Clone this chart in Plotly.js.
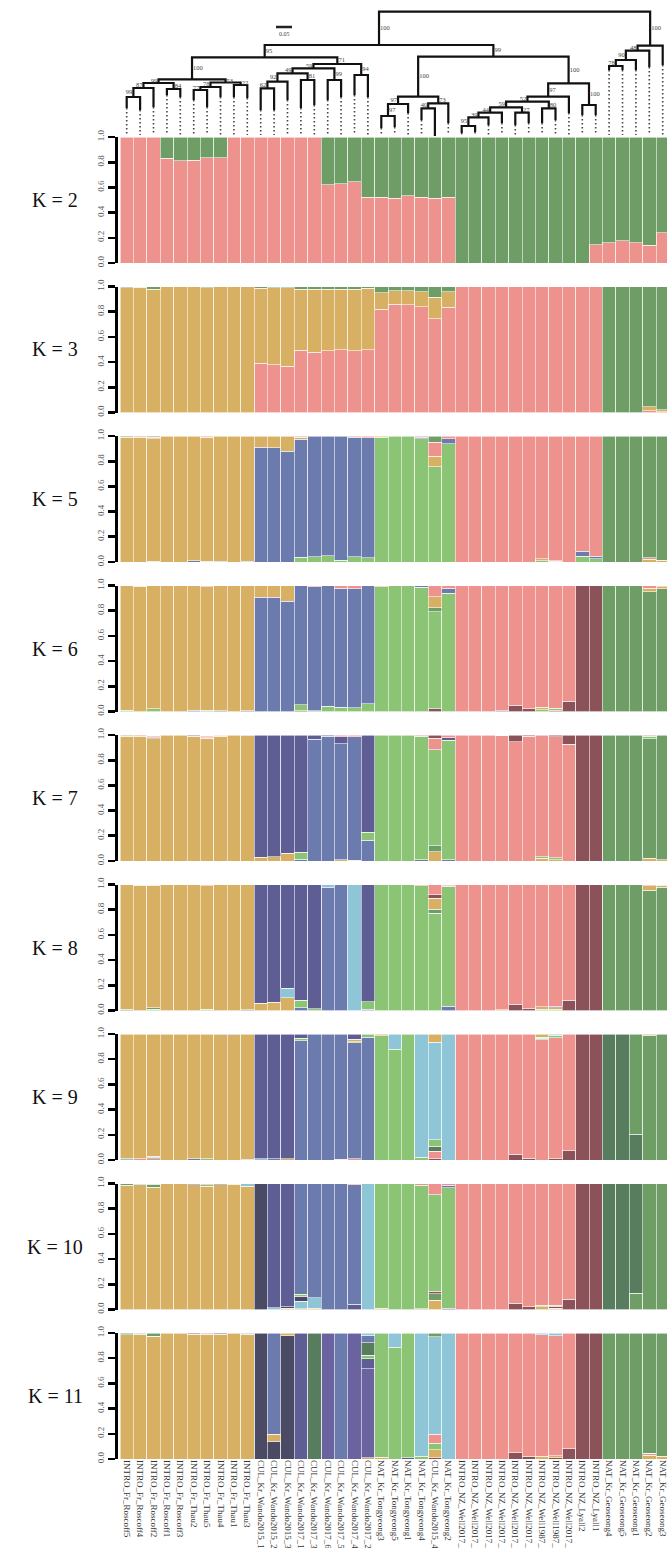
<!DOCTYPE html>
<html><head><meta charset="utf-8">
<script src="https://cdn.plot.ly/plotly-3.0.1.min.js"></script>
<style>body{margin:0;background:#fff}#chart{width:667px;height:1548px}</style>
</head><body><div id="chart"></div>
<script>
// ---------------- sample labels (bar order) ----------------
const sampleLabels = [
 "INTRO_Fr_Roscoff5","INTRO_Fr_Roscoff4","INTRO_Fr_Roscoff2","INTRO_Fr_Roscoff1","INTRO_Fr_Roscoff3",
 "INTRO_Fr_Thau2","INTRO_Fr_Thau5","INTRO_Fr_Thau4","INTRO_Fr_Thau1","INTRO_Fr_Thau3",
 "CUL_Kr_Wando2015_1","CUL_Kr_Wando2015_2","CUL_Kr_Wando2015_3","CUL_Kr_Wando2017_1","CUL_Kr_Wando2017_3",
 "CUL_Kr_Wando2017_6","CUL_Kr_Wando2017_5","CUL_Kr_Wando2017_4","CUL_Kr_Wando2017_2",
 "NAT_Kr_Tongyeong3","NAT_Kr_Tongyeong5","NAT_Kr_Tongyeong1","NAT_Kr_Tongyeong4","CUL_Kr_Wando2015_4","NAT_Kr_Tongyeong2",
 "INTRO_NZ_Well2017_","INTRO_NZ_Well2017_","INTRO_NZ_Well2017_","INTRO_NZ_Well2017_","INTRO_NZ_Well2017_","INTRO_NZ_Well2017_",
 "INTRO_NZ_Well1987_","INTRO_NZ_Well1987_","INTRO_NZ_Well2017_","INTRO_NZ_Lyall2","INTRO_NZ_Lyall1",
 "NAT_Kr_Geoseong4","NAT_Kr_Geoseong5","NAT_Kr_Geoseong1","NAT_Kr_Geoseong2","NAT_Kr_Geoseong3"
];
// groups per row: FR(10) | CUL(9) | NAT-T(6) | NZ(11) | Geo(5)

// ---------------- K = 2 ----------------
const k2_pink  = [1,1,1,.83,.81,.815,.835,.835,1,1, 1,1,1,1,1,.62,.63,.645,.52, .52,.515,.535,.52,.515,.52, 0,0,0,0,0,0,0,0,0,0,.145, .16,.175,.16,.14,.24];
const k2_green = [0,0,0,.17,.19,.185,.165,.165,0,0, 0,0,0,0,0,.38,.37,.355,.48, .48,.485,.465,.48,.485,.48, 1,1,1,1,1,1,1,1,1,1,.855, .84,.825,.84,.86,.76];

// ---------------- K = 3 ----------------
const k3_pink   = [0,0,0,0,0,0,0,0,0,0, .39,.38,.367,.495,.48,.49,.5,.49,.497, .82,.86,.855,.84,.745,.835, 1,1,1,1,1,1,1,1,1,1,1, 0,0,0,.015,.005];
const k3_yellow = [.99,.995,.98,1,1,1,.99,1,1,1, .597,.61,.623,.485,.5,.49,.48,.49,.488, .13,.105,.11,.12,.17,.125, 0,0,0,0,0,0,0,0,0,0,0, 0,0,0,.03,.015];
const k3_green  = [.01,.005,.02,0,0,0,.01,0,0,0, .013,.01,.01,.02,.02,.02,.02,.02,.015, .05,.035,.035,.04,.085,.04, 0,0,0,0,0,0,0,0,0,0,0, 1,1,1,.955,.98];

// ---------------- K = 5 ----------------
const k5_lgreen = [0,0,.005,0,0,0,.005,0,0,0, 0,0,0,.037,.04,.05,.015,.04,.035, .99,1,1,.98,.755,.94, 0,0,0,0,0,0,.01,.005,0,.045,.025, 0,0,0,0,0];
const k5_blue   = [0,0,0,0,0,.01,0,.005,0,.005, .91,.905,.88,.936,.96,.95,.985,.95,.95, 0,0,0,.01,0,.04, 0,0,0,0,0,0,0,0,0,.04,.02, 0,0,0,0,0];
const k5_yellow = [.99,.99,.975,1,1,.99,.985,.995,1,.995, .09,.095,.12,.017,0,0,0,0,0, .01,0,0,0,.085,0, 0,0,0,0,0,0,.015,.005,0,0,0, 0,0,0,.02,.015];
const k5_pink   = [0,.01,.01,0,0,0,.01,0,0,0, 0,0,0,.01,0,0,0,.01,.015, 0,0,0,.01,.11,.02, 1,1,1,1,1,1,.975,.99,1,.915,.955, 0,0,0,.015,0];
const k5_dgreen = [.01,0,.01,0,0,0,0,0,0,0, 0,0,0,0,0,0,0,0,0, 0,0,0,0,.05,0, 0,0,0,0,0,0,0,0,0,0,0, 1,1,1,.965,.985];

// ---------------- K = 6 ----------------
const k6_maroon = [0,0,0,0,0,0,0,0,0,0, 0,0,0,.005,0,0,0,0,0, 0,0,0,0,.02,0, 0,0,0,0,.048,.02,0,.01,.08,1,1, 0,0,0,0,0];
const k6_lgreen = [.01,0,.02,0,0,0,.01,0,0,0, 0,0,0,.05,.005,.04,.035,.03,.06, .99,1,1,.985,.77,.94, 0,0,0,0,0,0,.015,.015,0,0,0, 0,0,0,0,0];
const k6_blue   = [0,0,0,0,0,.01,0,.005,0,.005, .907,.907,.875,.945,.985,.96,.945,.946,.94, 0,0,0,.015,0,.04, 0,0,0,.005,0,0,0,0,0,0,0, 0,0,0,0,0];
const k6_dgreen = [0,0,0,0,0,0,0,0,0,0, 0,0,0,0,0,0,0,0,0, 0,0,0,0,.035,0, 0,0,0,0,0,0,0,0,0,0,0, 1,1,1,.95,.975];
const k6_yellow = [.99,.995,.98,1,1,.99,.98,.995,1,.995, .093,.093,.125,0,0,0,0,0,0, .01,0,0,0,.085,0, 0,0,0,0,0,0,.02,0,0,0,0, 0,0,0,.03,.015];
const k6_pink   = [0,.005,0,0,0,0,.01,0,0,0, 0,0,0,0,.01,0,.02,.024,0, 0,0,0,0,.09,.02, 1,1,1,.995,.952,.98,.965,.975,.92,0,0, 0,0,0,.02,.01];

// ---------------- K = 7 ----------------
const k7_yellow = [.99,.99,.97,1,1,.99,.975,.99,1,.995, .03,.035,.06,0,0,0,.01,.005,0, 0,0,0,0,.075,0, 0,0,0,0,0,0,.02,.01,0,0,0, 0,0,0,.02,.01];
const k7_dgreen = [0,0,.01,0,0,0,.005,0,0,0, 0,0,0,0,0,0,0,0,0, 0,0,0,0,.047,0, 0,0,0,0,0,0,0,0,0,0,0, 1,1,1,.95,.99];
const k7_blue   = [0,0,0,0,0,.01,0,.005,0,.005, 0,0,0,.015,.965,.99,.92,.98,.165, 0,0,0,.01,0,.01, 0,0,0,0,0,0,0,0,0,0,0, 0,0,0,0,0];
const k7_lgreen = [.01,0,0,0,0,0,0,0,0,0, 0,0,0,.055,0,0,0,0,.065, 1,1,1,.98,.76,.95, 0,0,0,0,0,0,.015,.015,0,0,0, 0,0,0,.02,0];
const k7_navy   = [0,0,0,0,0,0,0,0,0,0, .97,.965,.94,.93,.035,.01,.055,0,.77, 0,0,0,0,0,.02, 0,0,0,0,0,0,0,0,0,0,0, 0,0,0,0,0];
const k7_pink   = [0,.01,.01,0,0,0,.01,.005,0,0, 0,0,0,0,0,0,.015,.015,0, 0,0,0,.01,.093,.02, 1,1,1,.995,.945,.99,.965,.96,.925,0,0, 0,0,0,.01,0];
const k7_maroon = [0,0,0,0,0,0,0,0,0,0, 0,0,0,0,0,0,0,0,0, 0,0,0,0,.025,0, 0,0,0,0,.055,.01,0,.015,.075,1,1, 0,0,0,0,0];

// ---------------- K = 8 ----------------
const k8_blue      = [0,0,0,0,0,0,0,0,0,.005, 0,0,0,.02,0,.98,1,0,.01, 0,0,0,0,0,.035, 0,0,0,0,0,0,0,0,0,0,0, 0,0,0,0,0];
const k8_lgreen    = [0,0,.01,0,0,0,.01,0,0,0, 0,0,0,.06,.015,0,0,0,.06, 1,1,1,.99,.77,.95, 0,0,0,0,0,0,.01,.01,0,0,0, 0,0,0,0,0];
const k8_dgreen    = [.01,0,.01,0,0,0,0,0,0,0, 0,0,0,0,0,0,0,0,0, 0,0,0,0,.035,0, 0,0,0,0,0,0,0,0,0,0,0, 1,1,1,.955,.98];
const k8_yellow    = [.99,.995,.975,1,1,1,.98,1,1,.995, .058,.065,.1,0,0,0,0,0,0, 0,0,0,0,.085,0, 0,0,0,.005,0,0,.02,.01,0,0,0, 0,0,0,.035,.015];
const k8_lightblue = [0,0,0,0,0,0,0,0,0,0, 0,0,.075,0,0,.02,0,1,0, 0,0,0,0,0,0, 0,0,0,0,0,0,0,0,0,0,0, 0,0,0,0,0];
const k8_navy      = [0,0,0,0,0,0,0,0,0,0, .942,.935,.825,.92,.985,0,0,0,.93, 0,0,0,0,0,.005, 0,0,0,0,0,0,0,0,0,0,0, 0,0,0,0,0];
const k8_maroon    = [0,0,0,0,0,0,0,0,0,0, 0,0,0,0,0,0,0,0,0, 0,0,0,0,.027,0, 0,0,0,0,.05,.015,0,.015,.08,1,1, 0,0,0,0,0];
const k8_pink      = [0,.005,.005,0,0,0,.01,0,0,0, 0,0,0,0,0,0,0,0,0, 0,0,0,.01,.083,.01, 1,1,1,.995,.95,.985,.97,.965,.92,0,0, 0,0,0,.01,.005];

// ---------------- K = 9 ----------------
const k9_maroon    = [0,0,0,0,0,0,0,0,0,0, 0,0,0,0,0,0,0,0,0, 0,0,0,0,.01,0, 0,0,0,0,.045,.015,0,.01,.075,1,1, 0,0,0,0,0];
const k9_pink      = [0,.01,.01,0,0,0,0,0,0,0, 0,0,0,0,0,0,.005,.01,0, 0,0,0,0,.06,0, 1,1,1,1,.955,.985,.955,.96,.925,0,0, 0,0,0,0,0];
const k9_dkgreen   = [0,0,.01,0,0,0,0,0,0,0, 0,0,0,0,0,0,0,0,0, 0,0,0,0,.04,0, 0,0,0,0,0,0,0,0,0,0,0, 1,1,.205,0,0];
const k9_mgreen    = [0,0,0,0,0,0,0,0,0,0, 0,0,0,0,0,0,0,0,0, 0,0,0,0,0,0, 0,0,0,0,0,0,0,0,0,0,0, 0,0,.795,.99,1];
const k9_blue      = [0,0,0,0,0,.01,0,0,0,.005, 0,.01,0,.947,1,1,.995,.92,.975, 0,0,0,0,0,0, 0,0,0,0,0,0,0,0,0,0,0, 0,0,0,0,0];
const k9_lgreen    = [0,0,0,0,0,0,.01,0,0,0, 0,0,0,.02,0,0,0,.01,.025, .985,.88,1,.02,.05,0, 0,0,0,0,0,0,.01,.02,0,0,0, 0,0,0,0,0];
const k9_lightblue = [.01,0,.01,0,0,0,0,0,0,0, .01,0,0,0,0,0,0,0,0, 0,.12,0,.98,.775,1, 0,0,0,0,0,0,.01,.01,0,0,0, 0,0,0,0,0];
const k9_yellow    = [.99,.99,.97,1,1,.99,.99,.995,.995,.995, 0,0,.01,0,0,0,0,.02,0, .015,0,0,0,.065,0, 0,0,0,0,0,0,.025,0,0,0,0, 0,0,0,.01,0];
const k9_navy      = [0,0,0,0,0,0,0,.005,.005,0, .99,.99,.99,.033,0,0,0,.04,0, 0,0,0,0,0,0, 0,0,0,0,0,0,0,0,0,0,0, 0,0,0,0,0];

// ---------------- K = 10 ----------------
const k10_yellow    = [.985,.99,.97,1,1,.99,.98,.99,.995,.98, 0,0,.01,.005,.01,0,0,0,0, .01,0,0,.005,.075,0, 0,0,0,0,0,0,.02,.01,0,0,0, 0,0,0,0,0];
const k10_lightblue = [0,.01,0,0,0,0,0,0,0,.02, 0,.015,0,.06,.085,0,0,0,1, 0,0,0,0,0,0, 0,0,0,0,0,0,0,0,0,0,0, 0,0,0,0,0];
const k10_mgreen    = [.015,0,.025,0,0,0,0,0,0,0, 0,0,0,0,0,0,0,0,0, 0,0,0,0,.05,0, 0,0,0,0,0,0,0,0,0,0,0, 0,0,.13,1,1];
const k10_dkgreen   = [0,0,0,0,0,0,0,0,0,0, 0,0,0,0,0,0,0,0,0, 0,0,0,0,0,0, 0,0,0,0,0,0,0,0,0,0,0, 1,1,.87,0,0];
const k10_maroon    = [0,0,0,0,0,0,0,0,0,0, 0,0,0,0,0,0,0,0,0, 0,0,0,0,.02,0, 0,0,0,0,.05,.02,0,.015,.08,1,1, 0,0,0,0,0];
const k10_slate     = [0,0,0,0,0,0,0,0,0,0, 1,0,.01,.04,0,0,0,0,0, 0,0,0,0,0,0, 0,0,0,0,0,0,0,0,0,0,0, 0,0,0,0,0];
const k10_navy      = [0,0,0,0,0,.01,0,.01,0,0, 0,.985,.98,0,0,0,0,.04,0, 0,0,0,0,0,.01, 0,0,0,0,0,0,0,0,0,0,0, 0,0,0,0,0];
const k10_lgreen    = [0,0,0,0,0,0,.01,0,.005,0, 0,0,0,.015,0,0,0,0,0, .99,1,1,.98,.767,.955, 0,0,0,0,0,0,.015,.01,0,0,0, 0,0,0,0,0];
const k10_blue      = [0,0,0,0,0,0,0,0,0,0, 0,0,0,.88,.905,1,1,.95,0, 0,0,0,0,0,.02, 0,0,0,0,0,0,0,0,0,0,0, 0,0,0,0,0];
const k10_pink      = [0,0,.005,0,0,0,.01,0,0,0, 0,0,0,0,0,0,0,.01,0, 0,0,0,.015,.088,.015, 1,1,1,1,.95,.98,.965,.965,.92,0,0, 0,0,0,0,0];

// ---------------- K = 11 ----------------
const k11_maroon    = [0,0,0,0,0,0,0,0,0,0, 0,0,0,0,0,0,0,0,0, 0,0,0,0,.01,0, 0,0,0,0,.05,.02,0,.01,.08,1,1, 0,0,0,0,0];
const k11_slate     = [0,0,0,0,0,0,0,0,0,0, 1,.14,.98,0,0,0,0,0,0, 0,0,0,0,0,0, 0,0,0,0,0,0,0,0,0,0,0, 0,0,0,0,0];
const k11_yellow    = [.985,.99,.97,1,1,.99,.985,.99,1,.99, 0,.055,.02,0,0,0,0,0,.01, .015,0,0,0,.065,0, 0,0,0,0,0,0,.02,.015,0,0,0, 0,0,0,.03,.02];
const k11_purple    = [0,0,0,0,0,0,0,0,0,0, 0,0,0,0,0,1,0,1,.705, 0,0,0,0,0,0, 0,0,0,0,0,0,0,0,0,0,0, 0,0,0,0,0];
const k11_navy      = [0,0,0,0,0,.01,.005,.01,0,0, 0,0,0,1,0,0,0,0,.08, 0,0,.01,0,0,0, 0,0,0,0,0,0,0,0,0,0,0, 0,0,0,0,0];
const k11_lgreen    = [0,0,0,0,0,0,0,0,0,0, 0,0,0,0,0,0,0,0,.027, .985,.888,.99,.02,.05,0, 0,0,0,0,0,0,0,0,0,0,0, 0,0,0,0,0];
const k11_dkgreen   = [0,0,0,0,0,0,0,0,0,0, 0,0,0,0,1,0,0,0,.1, 0,0,0,0,0,0, 0,0,0,0,0,0,0,0,0,0,0, 0,0,0,0,0];
const k11_blue      = [0,0,0,0,0,0,0,0,0,0, 0,.805,0,0,0,0,1,0,.06, 0,0,0,0,0,0, 0,0,0,0,0,0,0,0,0,0,0, 0,0,0,0,0];
const k11_pink      = [0,0,.005,0,0,0,.01,0,0,0, 0,0,0,0,0,0,0,0,0, 0,0,0,0,.07,0, 1,1,1,1,.95,.98,.965,.955,.92,0,0, 0,0,0,.01,0];
const k11_lightblue = [0,.01,0,0,0,0,0,0,0,.01, 0,0,0,0,0,0,0,0,.018, 0,.112,0,.98,.775,1, 0,0,0,0,0,0,.015,.02,0,0,0, 0,0,0,.005,0];
const k11_mgreen    = [.015,0,.025,0,0,0,0,0,0,0, 0,0,0,0,0,0,0,0,0, 0,0,0,0,.03,0, 0,0,0,0,0,0,0,0,0,0,0, 1,1,1,.955,.98];

// ---------------- tree (bootstrap dendrogram) ----------------
// tip depth of each leaf (same order as bars)
const leafTip = [108,110,107,95,97,100,107,97,97,98, 110,110,100,108,105,100,97,95,97, 128,127,113,120,137,123, 133,132,125,123,125,123,123,120,113,115,115, 70,70,70,67,65];
// [node id, child A, child B, node depth, bootstrap support]
const treeNodes = [
 ["n1",0,1,97,"99"],["n2","n1",2,88,"87"],["n3",3,4,89,"84"],["n4","n2","n3",83,"99"],
 ["n5",5,6,90,"77"],["n6","n5",7,87,"78"],["n7",8,9,85,"22"],["n8","n6","n7",82.5,"53"],["n9","n4","n8",79.3,"100"],
 ["n10",10,11,88.3,"62"],["n11","n10",12,81.7,"92"],["n12",13,14,80,"81"],["n13","n11","n12",73.3,"49"],
 ["n14",15,16,80,"99"],["n15","n13","n14",68.3,"59"],["n16",17,18,75,"94"],["n17","n15","n16",64,"71"],["n18","n9","n17",57.3,"95"],
 ["t1",19,20,116,"97"],["t2","t1",21,104,"97"],["t3",22,23,108.3,"40"],["t4","t3",24,103.3,"73"],["t5","t2","t4",96.7,"100"],
 ["z1",25,26,126,"95"],["z2","z1",27,117.3,"39"],["z3","z2",28,112.7,"44"],["z4",29,30,112.7,"27"],["z5","z3","z4",107.3,"59"],
 ["z6",31,32,108.3,"80"],["z7","z5","z6",101.7,"52"],["z8","z7",33,96.7,"97"],["l1",34,35,105,"100"],["z9","z8","l1",83.3,"100"],
 ["m1","t5","z9",56.7,"99"],["big","n18","m1",45,"100"],
 ["g1",36,37,66,"78"],["g2","g1",38,60,"90"],["g3","g2",39,50.7,"48"],["g4","g3",40,45.7,"100"],
 ["root","big","g4",11.7,""]
];
const tipBaseline = 135;

// ---------------- styles ----------------
const C = {pink:'#ee928d', green:'#6e9e66', yellow:'#d8b064', blue:'#6c7bad', lgreen:'#8bc474',
  navy:'#5e5e94', maroon:'#8b5259', lightblue:'#8ec6d8', dkgreen:'#587d5e', slate:'#4a4a64', purple:'#6b62a0'};

const panels = [
 {k:'K = 2', layers:[[k2_pink,C.pink],[k2_green,C.green]]},
 {k:'K = 3', layers:[[k3_pink,C.pink],[k3_yellow,C.yellow],[k3_green,C.green]]},
 {k:'K = 5', layers:[[k5_lgreen,C.lgreen],[k5_blue,C.blue],[k5_yellow,C.yellow],[k5_pink,C.pink],[k5_dgreen,C.green]]},
 {k:'K = 6', layers:[[k6_maroon,C.maroon],[k6_lgreen,C.lgreen],[k6_blue,C.blue],[k6_dgreen,C.green],[k6_yellow,C.yellow],[k6_pink,C.pink]]},
 {k:'K = 7', layers:[[k7_yellow,C.yellow],[k7_dgreen,C.green],[k7_blue,C.blue],[k7_lgreen,C.lgreen],[k7_navy,C.navy],[k7_pink,C.pink],[k7_maroon,C.maroon]]},
 {k:'K = 8', layers:[[k8_blue,C.blue],[k8_lgreen,C.lgreen],[k8_dgreen,C.green],[k8_yellow,C.yellow],[k8_lightblue,C.lightblue],[k8_navy,C.navy],[k8_maroon,C.maroon],[k8_pink,C.pink]]},
 {k:'K = 9', layers:[[k9_maroon,C.maroon],[k9_pink,C.pink],[k9_dkgreen,C.dkgreen],[k9_mgreen,C.green],[k9_blue,C.blue],[k9_lgreen,C.lgreen],[k9_lightblue,C.lightblue],[k9_yellow,C.yellow],[k9_navy,C.navy]]},
 {k:'K = 10', layers:[[k10_yellow,C.yellow],[k10_lightblue,C.lightblue],[k10_mgreen,C.green],[k10_dkgreen,C.dkgreen],[k10_maroon,C.maroon],[k10_slate,C.slate],[k10_navy,C.navy],[k10_lgreen,C.lgreen],[k10_blue,C.blue],[k10_pink,C.pink]]},
 {k:'K = 11', layers:[[k11_maroon,C.maroon],[k11_slate,C.slate],[k11_yellow,C.yellow],[k11_purple,C.purple],[k11_navy,C.navy],[k11_lgreen,C.lgreen],[k11_dkgreen,C.dkgreen],[k11_blue,C.blue],[k11_pink,C.pink],[k11_lightblue,C.lightblue],[k11_mgreen,C.green]]}
];

const W = 667, H = 1548;
const idx = sampleLabels.map((_, i) => i);
const xDomain = [120 / W, 1];
const xRange = [-0.5, -0.5 + (W - 120) / 13.4];
const serif = 'Liberation Serif, Times New Roman, serif';

const traces = [];
const layout = {
  width: W, height: H, margin: {l: 0, r: 0, t: 0, b: 0},
  paper_bgcolor: '#fff', plot_bgcolor: 'rgba(0,0,0,0)',
  barmode: 'stack', bargap: 0, showlegend: false,
  annotations: [], shapes: []
};

panels.forEach((p, i) => {
  const n = i + 1;
  const top = 137 + 149.5 * i, bot = top + 126;
  const xa = 'x' + n, ya = 'y' + n;
  p.layers.forEach(([vals, col]) => {
    traces.push({type: 'bar', x: idx, y: vals.map(v => v === 0 ? null : v),
      xaxis: xa, yaxis: ya, width: 1, hoverinfo: 'skip',
      marker: {color: col, line: {color: 'rgba(255,255,255,0.8)', width: 0.7}}});
  });
  const last = i === panels.length - 1;
  layout['xaxis' + n] = {domain: xDomain, range: xRange, anchor: ya, showgrid: false, zeroline: false,
    showline: false, ticks: '', fixedrange: true, automargin: false, ticklabeloverflow: 'allow',
    showticklabels: last, tickmode: 'array', tickvals: idx, ticktext: sampleLabels, tickangle: 90,
    tickfont: {family: serif, size: 9, color: '#333'}};
  layout['yaxis' + n] = {domain: [1 - bot / H, 1 - top / H], range: [0, 1], anchor: 'free', position: 116 / W,
    showgrid: false, zeroline: false, showline: true, linecolor: '#000', linewidth: 3,
    ticks: 'outside', ticklen: 7, tickwidth: 2.6, tickcolor: '#000', automargin: false,
    tickmode: 'array', tickvals: [0, .2, .4, .6, .8, 1], ticktext: ['0.0', '0.2', '0.4', '0.6', '0.8', '1.0'],
    tickangle: -90, tickfont: {family: serif, size: 9, color: '#555'}, fixedrange: true};
  layout.annotations.push({xref: 'paper', yref: 'paper', x: 55 / W, y: 1 - (top + 63) / H,
    text: p.k, showarrow: false, font: {family: serif, size: 20, color: '#111'}, xanchor: 'center', yanchor: 'middle'});
});

// ---------------- dendrogram ----------------
const pos = {};
leafTip.forEach((d, k) => { pos[k] = {x: k, y: d}; });
const parentOf = {};
treeNodes.forEach(([id, a, b]) => { parentOf[a] = {id, side: 'left'}; parentOf[b] = {id, side: 'right'}; });
const solidX = [], solidY = [], dotX = [], dotY = [];
const labX = [], labY = [], labT = [], labPos = [];
treeNodes.forEach(([id, a, b, depth]) => {
  const A = pos[a], B = pos[b];
  pos[id] = {x: (A.x + B.x) / 2, y: depth};
  solidX.push(A.x, A.x, B.x, B.x, null);
  solidY.push(A.y, depth, depth, B.y, null);
});
leafTip.forEach((d, k) => { dotX.push(k, k, null); dotY.push(d, tipBaseline, null); });
treeNodes.forEach(([id, a, b, depth, sup]) => {
  if (!sup) return;
  const par = parentOf[id];
  const pd = par ? pos[par.id].y : depth - 6;
  // long stems carry the label on their right, short left-hand stems on their left
  const onLeft = par && par.side === 'left' && (depth - pd) < 10;
  labX.push(pos[id].x + (onLeft ? -0.08 : 0.08));
  labY.push((depth + pd) / 2);
  labT.push(sup);
  labPos.push(onLeft ? 'middle left' : 'middle right');
});
traces.push({type: 'scatter', mode: 'lines', x: dotX, y: dotY, xaxis: 'x10', yaxis: 'y10', hoverinfo: 'skip',
  line: {color: '#444', width: 1.6, dash: '1.4px,2.6px'}});
traces.push({type: 'scatter', mode: 'lines', x: solidX, y: solidY, xaxis: 'x10', yaxis: 'y10', hoverinfo: 'skip',
  line: {color: '#111', width: 2.2}});
traces.push({type: 'scatter', mode: 'text', x: labX, y: labY, text: labT, textposition: labPos,
  xaxis: 'x10', yaxis: 'y10', hoverinfo: 'skip', textfont: {family: serif, size: 6.5, color: '#444'}});
layout.xaxis10 = {domain: xDomain, range: xRange, anchor: 'y10', visible: false, fixedrange: true};
layout.yaxis10 = {domain: [1 - 136 / H, 1], range: [136, 0], anchor: 'x10', visible: false, fixedrange: true};

// scale bar
layout.shapes.push({type: 'line', xref: 'paper', yref: 'paper', x0: 276 / W, x1: 292 / W,
  y0: 1 - 27 / H, y1: 1 - 27 / H, line: {color: '#222', width: 2.5}});
layout.annotations.push({xref: 'paper', yref: 'paper', x: 284 / W, y: 1 - 34 / H, text: '0.05',
  showarrow: false, font: {family: serif, size: 6, color: '#444'}, xanchor: 'center', yanchor: 'middle'});

Plotly.newPlot('chart', traces, layout, {displayModeBar: false, staticPlot: true});
</script></body></html>
